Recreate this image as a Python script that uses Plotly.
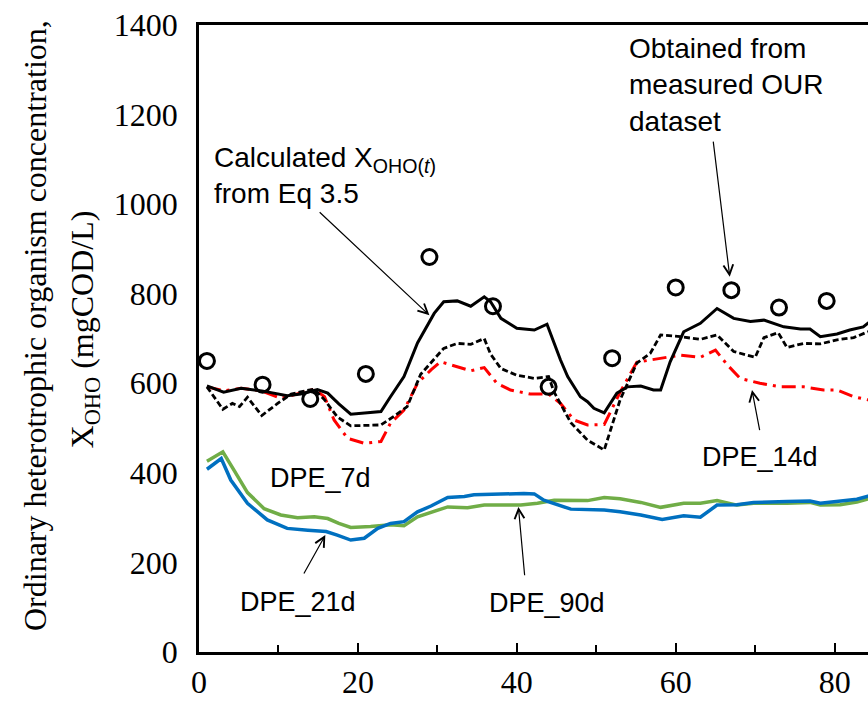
import plotly.graph_objects as go

# Measured OUR-derived X_OHO (open circles)
meas_day = [1, 8, 14, 21, 29, 37, 44, 52, 60, 67, 73, 79]
meas_xoho = [650, 597, 565, 621, 882, 772, 592, 656, 814, 808, 769, 784]

# Calculated X_OHO(t) from Eq 3.5 (solid black)
calc_day = [1, 3.1, 5.3, 7.9, 11.1, 12.8, 14.9, 16.2, 17.6, 19.1, 21.2, 22.9, 24.1, 25.8,
            27.5, 28.5, 29.6, 30.8, 32.5, 34.2, 35.9, 36.7, 38, 40, 42.2, 43.8, 44.7, 45.5,
            46.4, 48, 48.9, 49.7, 51, 52.6, 53.9, 55.6, 57.2, 58.1, 59.3, 61, 63.1, 65.2,
            67.3, 69.4, 71.1, 73.6, 75.7, 76.9, 78.2, 80.3, 81.9, 83.6, 85]
calc_xoho = [594, 580, 589, 583, 572, 576, 586, 578, 554, 531, 534, 537, 570, 615,
             690, 722, 756, 782, 784, 772, 793, 782, 745, 723, 719, 732, 689, 652,
             615, 570, 559, 544, 534, 578, 592, 594, 585, 585, 648, 715, 734, 767,
             745, 738, 741, 726, 721, 721, 704, 710, 719, 726, 745]

# DPE_7d (black dashed)
d7_day = [1, 3, 4.2, 5.1, 6.1, 7.9, 9.9, 11.6, 12.8, 14.5, 15.8, 17.4, 19.1, 22.9, 24.6,
          26.2, 27.9, 29.2, 30.8, 32.5, 34.2, 35.9, 36.7, 38, 40, 42.2, 44, 44.7, 46.8,
          48.9, 51, 53, 55.1, 56.8, 58.1, 60.6, 63.1, 65.2, 67.3, 70, 71.1, 72.9, 74,
          76.1, 78.2, 80.3, 82.4, 84.2, 85]
d7_xoho = [592, 542, 555, 548, 569, 528, 555, 576, 581, 587, 563, 525, 505, 507, 527,
           548, 620, 645, 678, 689, 687, 700, 665, 633, 618, 611, 615, 580, 512,
           473, 451, 563, 645, 667, 708, 704, 698, 708, 671, 658, 702, 713, 680,
           689, 688, 697, 702, 715, 722]

# DPE_14d (red dash-dot)
d14_day = [1, 3.2, 5.3, 7.9, 10.3, 12.8, 14.5, 15.8, 17, 18.7, 20.8, 22.9, 24.1, 25.8,
           27.5, 29.2, 30.4, 32.5, 34.2, 35.9, 37.5, 39.2, 41.7, 44, 45.5, 47.2, 48.9,
           51, 53, 55.1, 58.1, 60.6, 63.1, 65, 66.5, 68.1, 70.6, 73.2, 76.1, 78.6, 80.3,
           82.4, 84.2, 85]
d14_xoho = [592, 583, 589, 583, 566, 578, 587, 570, 518, 477, 466, 470, 511, 540,
            600, 630, 648, 637, 628, 635, 600, 585, 576, 576, 555, 518, 507,
            508, 580, 647, 656, 663, 658, 674, 641, 611, 600, 592, 592, 585, 585,
            570, 563, 560]

# DPE_21d (blue)
d21_day = [1, 2.8, 4, 6.1, 8.6, 11.1, 13.7, 16, 17.4, 19.1, 20.8, 22.5, 24.1, 25.8, 27.5,
           29.2, 31.3, 33.4, 34.6, 36.7, 38.8, 40.9, 42.2, 43.4, 46.8, 51, 53, 55.6, 58.3,
           61, 63.1, 65.2, 67.7, 69.8, 74, 76.9, 78.2, 80.7, 82.8, 84.2, 85]
d21_xoho = [408, 432, 384, 332, 295, 276, 272, 269, 261, 250, 254, 276, 287, 291, 313,
            326, 345, 347, 351, 352, 354, 354, 353, 339, 319, 317, 313, 306, 296,
            304, 301, 328, 329, 334, 336, 337, 332, 336, 341, 348, 351]

# DPE_90d (green)
d90_day = [1, 3, 4.4, 6.1, 8.2, 10.3, 12.4, 14.5, 16.2, 17.6, 19.1, 21.6, 24.1, 25.8, 27.5,
           29.2, 31.3, 33.8, 35.9, 38.4, 40.5, 42.6, 44.7, 48.9, 51, 53, 55.6, 58.1, 61,
           63.1, 65.2, 67.7, 69.8, 74, 76.9, 78.2, 80.7, 82.8, 84.2, 85]
d90_xoho = [426, 447, 406, 356, 320, 306, 300, 302, 298, 287, 278, 280, 284, 282, 302,
            311, 324, 322, 328, 328, 328, 332, 339, 338, 345, 342, 334, 323, 332,
            332, 338, 328, 332, 332, 334, 328, 329, 335, 343, 346]

x_ticks = [0, 20, 40, 60, 80]
y_ticks = [0, 200, 400, 600, 800, 1000, 1200, 1400]

SERIF = "Liberation Serif"
SANS = "Liberation Sans"

fig = go.Figure()
fig.add_trace(go.Scatter(x=d90_day, y=d90_xoho, mode="lines",
                         line=dict(color="#70AD47", width=3.5), name="DPE_90d"))
fig.add_trace(go.Scatter(x=d21_day, y=d21_xoho, mode="lines",
                         line=dict(color="#0070C0", width=3.5), name="DPE_21d"))
fig.add_trace(go.Scatter(x=d14_day, y=d14_xoho, mode="lines",
                         line=dict(color="#FF0000", width=3, dash="14px,6px,3px,6px"),
                         name="DPE_14d"))
fig.add_trace(go.Scatter(x=d7_day, y=d7_xoho, mode="lines",
                         line=dict(color="black", width=2.8, dash="6px,3px"), name="DPE_7d"))
fig.add_trace(go.Scatter(x=calc_day, y=calc_xoho, mode="lines",
                         line=dict(color="black", width=3), name="Calculated"))
fig.add_trace(go.Scatter(x=meas_day, y=meas_xoho, mode="markers",
                         marker=dict(symbol="circle-open", size=15, color="black",
                                     line=dict(width=3, color="black")),
                         name="Measured"))

ann_font = dict(family=SANS, size=28, color="black")
lbl_font = dict(family=SANS, size=27, color="black")

annotations = [
    # callout texts
    dict(x=0.02, y=0.76, xref="paper", yref="paper", xanchor="left", yanchor="middle",
         align="left", showarrow=False, font=ann_font,
         text="Calculated X<sub>OHO(<i>t</i>)</sub><br>from Eq 3.5"),
    dict(x=0.64, y=0.905, xref="paper", yref="paper", xanchor="left", yanchor="middle",
         align="left", showarrow=False, font=ann_font,
         text="Obtained from<br>measured OUR<br>dataset"),
    dict(x=15.3, y=389, xref="x", yref="y", showarrow=False, font=lbl_font, text="DPE_7d"),
    dict(x=70.6, y=435, xref="x", yref="y", showarrow=False, font=lbl_font, text="DPE_14d"),
    dict(x=12.5, y=112, xref="x", yref="y", showarrow=False, font=lbl_font, text="DPE_21d"),
    dict(x=43.8, y=109, xref="x", yref="y", showarrow=False, font=lbl_font, text="DPE_90d"),
]

# arrows: (head x, head y, tail x, tail y)
arrows = [
    (29.0, 752, 15.0, 985),
    (66.8, 838, 64.7, 1143),
    (69.6, 585, 70.6, 492),
    (15.9, 261, 13.1, 172),
    (40.2, 324, 41.0, 168),
]
for hx, hy, tx, ty in arrows:
    annotations.append(dict(x=hx, y=hy, ax=tx, ay=ty, xref="x", yref="y",
                            axref="x", ayref="y", text="", showarrow=True,
                            arrowhead=5, arrowsize=1.6, arrowwidth=1.2,
                            arrowcolor="black", standoff=0))

# rotated y-axis title, two lines
title_font = dict(family=SERIF, size=32, color="black")
annotations.append(dict(x=-0.275, y=0.52, xref="paper", yref="paper", showarrow=False,
                        textangle=-90, font=title_font,
                        text="Ordinary heterotrophic organism concentration,"))
annotations.append(dict(x=-0.205, y=0.515, xref="paper", yref="paper", showarrow=False,
                        textangle=-90, font=title_font,
                        text="X<sub>OHO</sub> (mgCOD/L)"))

fig.update_layout(
    width=868, height=702,
    margin=dict(l=199, r=0, t=25, b=50),
    paper_bgcolor="white", plot_bgcolor="white",
    showlegend=False,
    annotations=annotations,
    xaxis=dict(range=[0, 84.2], tickvals=x_ticks, ticks="inside", ticklen=9, tickwidth=2,
               tickcolor="black", minor=dict(dtick=10, tick0=0, ticks="inside", ticklen=7,
                                             tickwidth=2, tickcolor="black"),
               showline=True, linecolor="black", linewidth=2.5, mirror=True,
               showgrid=False, zeroline=False,
               tickfont=dict(family=SERIF, size=32, color="black")),
    yaxis=dict(range=[0, 1400], tickvals=y_ticks, ticks="",
               showline=True, linecolor="black", linewidth=2.5,
               showgrid=False, zeroline=False, ticklabelstandoff=12,
               tickfont=dict(family=SERIF, size=32, color="black")),
)

fig.write_html("out.html")
